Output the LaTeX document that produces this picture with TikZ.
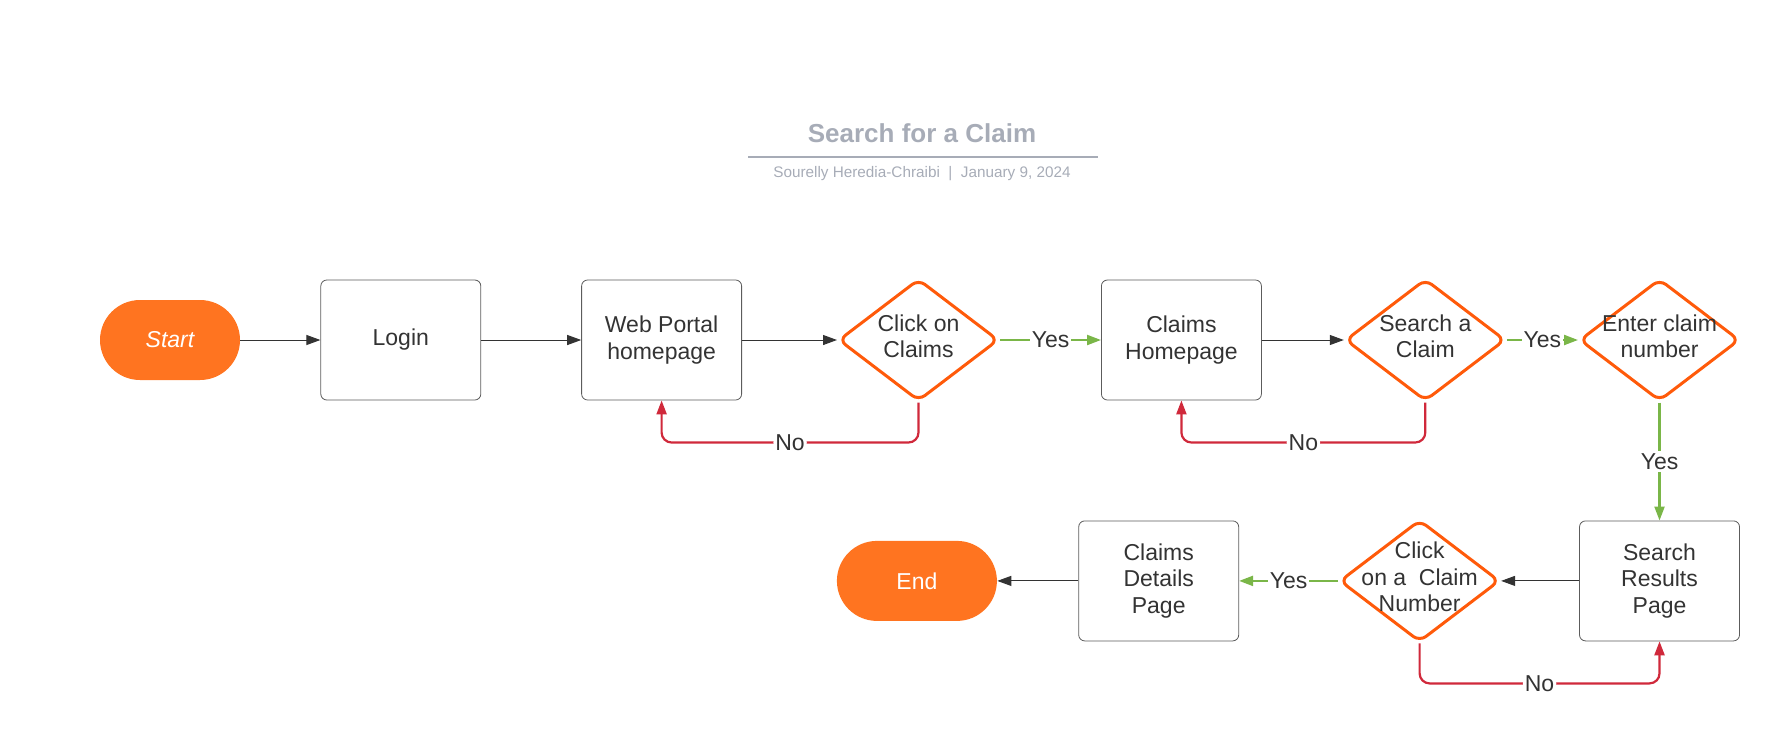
\documentclass[tikz,border=0pt]{standalone}
\usepackage{fontspec}
\setmainfont{Liberation Sans}
\usetikzlibrary{positioning,shapes.geometric,arrows.meta}
\definecolor{flame}{HTML}{FF7420}
\definecolor{rim}{HTML}{FF5A0A}
\definecolor{nored}{HTML}{D0293B}
\definecolor{yesgreen}{HTML}{7AB648}
\definecolor{ink}{HTML}{333333}
\definecolor{muted}{HTML}{A7ACB7}
% diamond text may spill over the outline, as in the drawing
\newcommand{\choicetext}[1]{\smash{\raisebox{-2.5pt}{\begin{tabular}{@{}c@{}}#1\end{tabular}}}}
\tikzset{
    terminal/.style={rectangle, rounded corners=20pt, fill=flame, minimum width=70pt, minimum height=40pt, text=white, font=\fontsize{11.5}{13.5}\selectfont},
    page/.style={rectangle, draw=ink!80, rounded corners=3pt, minimum width=80pt, minimum height=60pt, align=center, text=ink, font=\fontsize{11.5}{13.3}\selectfont},
    decision/.style={diamond, draw=rim, line width=1.5pt, rounded corners=4pt, minimum width=80pt, minimum height=61pt, inner sep=0pt, text=ink, font=\fontsize{11.5}{13.3}\selectfont},
    arrow/.style={-{Triangle[length=7pt, width=5pt]}, ink, line width=0.5pt},
    yes/.style={-{Triangle[length=7pt, width=5pt]}, yesgreen, line width=1.1pt},
    no/.style={-{Triangle[length=7pt, width=5pt]}, nored, line width=1.1pt, rounded corners=5pt},
    tag/.style={fill=white, inner sep=1pt, text=ink, font=\fontsize{11.5}{13.5}\selectfont}
}
\begin{document}
\begin{tikzpicture}
\useasboundingbox (0,0) rectangle (890pt,-367pt);

% title block
\node[font=\fontsize{13}{15}\selectfont\bfseries, text=muted] (title) at (461pt,-66.5pt) {Search for a Claim};
\coordinate (ruleL) at (374pt,-78.5pt);
\coordinate (ruleR) at (549pt,-78.5pt);
\draw[muted, line width=0.8pt] (ruleL) -- (ruleR);
\node[font=\fontsize{7.65}{9}\selectfont, text=muted] (byline) at (461pt,-87pt) {Sourelly Heredia-Chraibi \ | \ January 9, 2024};

% top row
\node[terminal] (start) at (85pt,-170pt) {\itshape Start};
\node[page, right=40pt of start] (login) {Login};
\node[page, right=50pt of login] (portal) {Web Portal\\homepage};
\node[decision, right=47.5pt of portal] (clickclaims) {\choicetext{Click on\\Claims}};
\node[page, right=50.5pt of clickclaims] (claimshome) {Claims\\Homepage};
\node[decision, right=41pt of claimshome] (searchclaim) {\choicetext{Search a\\Claim}};
\node[decision, right=35.6pt of searchclaim] (enternum) {\choicetext{Enter claim\\number}};

% bottom row
\node[page, below=59pt of enternum] (results) {Search\\Results\\Page};
\node[decision, left=39pt of results] (clicknum) {\choicetext{Click\\on a \ Claim\\Number}};
\node[page, left=49.5pt of clicknum] (details) {Claims\\Details\\Page};
\node[terminal, minimum width=80pt, left=40.5pt of details] (finish) {End};

\draw[arrow] (start.east) -- (login.west);
\draw[arrow] (login.east) -- (portal.west);
\draw[arrow] (portal.east) -- (clickclaims.west);
\draw[yes] (clickclaims.east) -- node[tag]{Yes} (claimshome.west);
\draw[arrow] (claimshome.east) -- (searchclaim.west);
\draw[yes] (searchclaim.east) -- node[tag]{Yes} (enternum.west);
\draw[yes] (enternum.south) -- node[tag]{Yes} (results.north);
\draw[arrow] (results.west) -- (clicknum.east);
\draw[yes] (clicknum.west) -- node[tag]{Yes} (details.east);
\draw[arrow] (details.west) -- (finish.east);

\draw[no] (clickclaims.south) -- ++(0,-20pt) -| node[tag, pos=0.25]{No} (portal.south);
\draw[no] (searchclaim.south) -- ++(0,-20pt) -| node[tag, pos=0.25]{No} (claimshome.south);
\draw[no] (clicknum.south) -- ++(0,-20pt) -| node[tag, pos=0.25]{No} (results.south);

\end{tikzpicture}
\end{document}
